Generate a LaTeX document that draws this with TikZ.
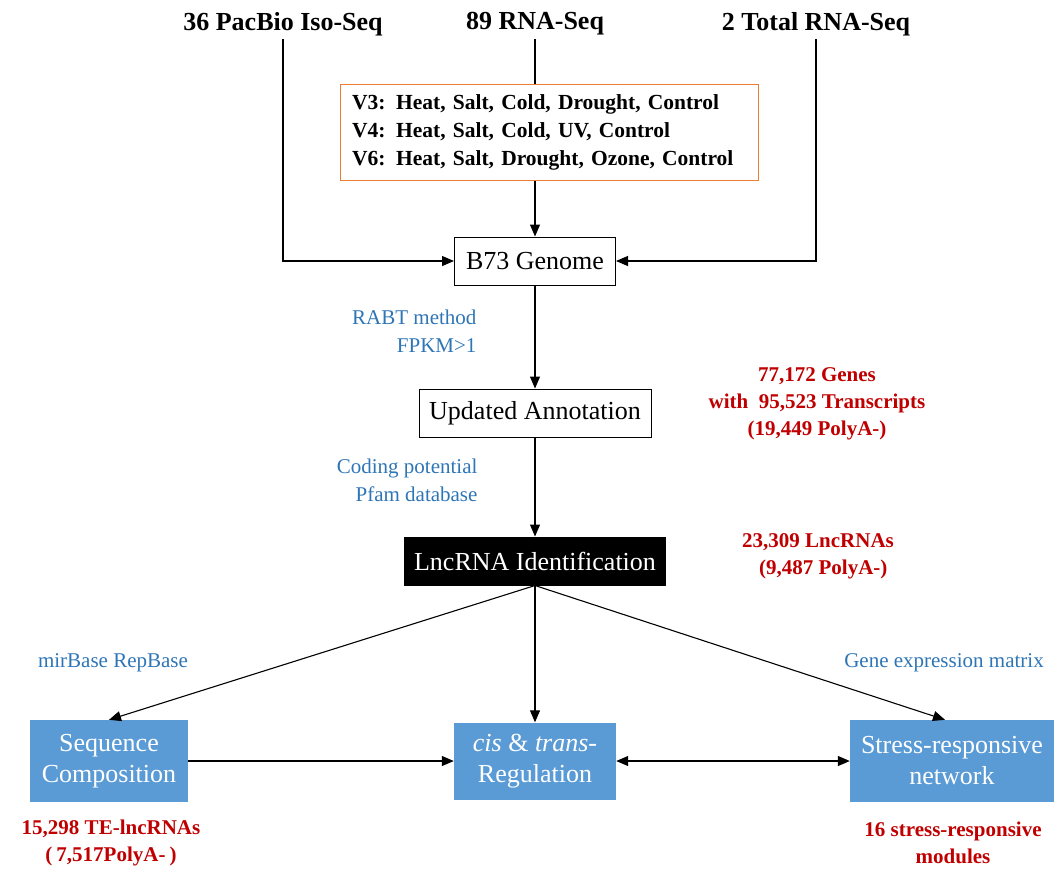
\documentclass[tikz,border=0pt]{standalone}
\usepackage{fontspec}
\setmainfont{Liberation Serif}
\usepackage{tikz}
\usetikzlibrary{arrows.meta,positioning,calc}
\definecolor{boxblue}{HTML}{5B9BD5}
\definecolor{noteblue}{HTML}{2E75B6}
\definecolor{countred}{HTML}{C00000}
\definecolor{frameorange}{HTML}{ED7D31}
\begin{document}
\begin{tikzpicture}[x=1pt, y=-1pt,
	>={Triangle[length=12pt,width=10pt]},
	flow/.style={->, line width=1.1pt},
	source/.style={font=\fontsize{26}{30}\selectfont\bfseries},
	stage/.style={draw, line width=1pt, fill=white, font=\fontsize{26}{30}\selectfont, minimum height=48, inner xsep=0pt},
	result/.style={fill=boxblue, text=white, align=center, font=\fontsize{26}{31}\selectfont, inner xsep=0pt},
	note/.style={text=noteblue, font=\fontsize{21}{28}\selectfont, align=right},
	count/.style={text=countred, font=\fontsize{21}{27}\selectfont\bfseries, align=center}]
	\useasboundingbox (0,0) rectangle (1056,871);
	\node[source] (iso) at (283,24) {36 PacBio Iso-Seq};
	\node[source] (rna) at (535,24) {89 RNA-Seq};
	\node[source] (total) at (816,24) {2 Total RNA-Seq};
	\node[draw=frameorange, line width=1pt, text width=394, inner xsep=12pt, minimum height=96, align=left, font=\fontsize{21.5}{28}\selectfont\bfseries] (cond) at (549,132)
		{V3: Heat, Salt, Cold,\ Drought,\ Control\\V4: Heat, Salt, Cold,\ UV, Control\\V6: Heat, Salt, Drought,\ Ozone,\ Control};
	\node[stage, minimum width=161] (genome) at (535,261) {B73 Genome};
	\node[stage, minimum width=232] (annot) at (535,413) {Updated Annotation};
	\node[stage, fill=black, text=white, minimum width=261] (lnc) at (535,561) {LncRNA Identification};
	\node[result, minimum width=158, minimum height=82] (seq) at (109,761) {Sequence\\Composition};
	\node[result, minimum width=162, minimum height=77] (cis) at (535,761) {\textit{cis} \& \textit{trans}-\\Regulation};
	\node[result, minimum width=204, minimum height=82] (net) at (952,761) {Stress-responsive\\network};
	\node[note, anchor=east] (rabt) at (480,331) {RABT method\\FPKM>1};
	\node[note, anchor=east] (coding) at (481,480) {Coding potential\\Pfam database};
	\node[note, align=center] (mir) at (113,663) {mirBase\ RepBase};
	\node[note, align=center] (expr) at (944,663) {Gene expression matrix};
	\node[count] (genes) at (817,404) {77,172 Genes\\with\ \ 95,523 Transcripts\\(19,449 PolyA-)};
	\node[count] (lncnum) at (818,556) {23,309 LncRNAs\\\ \ (9,487 PolyA-)};
	\node[count] (te) at (111,843) {15,298 TE-lncRNAs\\(\kern4pt7,517PolyA-\kern4pt)};
	\node[count] (modules) at (953,843) {16 stress-responsive\\modules};
	\draw[flow] (iso.south) |- (genome.west);
	\draw[flow] (total.south) |- (genome.east);
	\draw[line width=1.1pt] (rna.south) -- (rna.south |- cond.north);
	\draw[flow] (genome.north |- cond.south) -- (genome.north);
	\draw[flow] (genome) -- (annot);
	\draw[flow] (annot) -- (lnc);
	\draw[flow] (lnc.south) -- (seq.north);
	\draw[flow] (lnc.south) -- (cis.north);
	\draw[flow] (lnc.south) -- ($(net.north)+(-7,0)$);
	\draw[flow] (seq) -- (cis);
	\draw[flow, <->] (cis) -- (net);
\end{tikzpicture}
\end{document}
